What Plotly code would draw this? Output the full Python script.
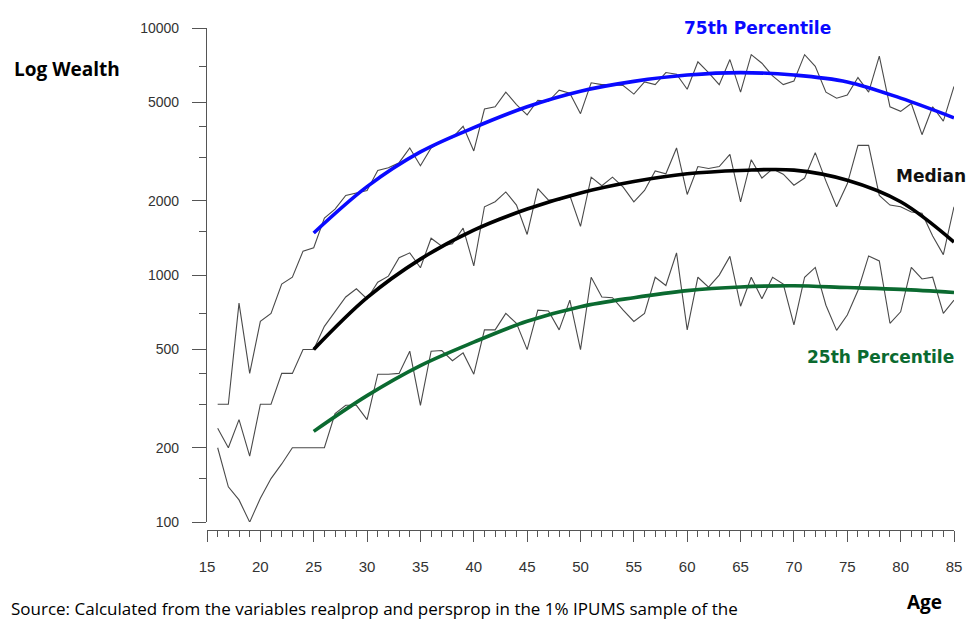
import plotly.graph_objects as go

ages = list(range(16, 86))

p75_raw = [300, 300, 770, 400, 650, 700, 920, 980, 1250, 1290,
           1700, 1850, 2100, 2150, 2200, 2650, 2720, 2850, 3270, 2770,
           3270, 3480, 3600, 4000, 3180, 4700, 4800, 5500, 4900, 4450,
           5100, 5050, 5600, 5450, 4500, 6000, 5900, 5900, 5850, 5400,
           6050, 5900, 6600, 6500, 5650, 7300, 6600, 5900, 7450, 5500,
           7800, 7200, 6400, 5900, 6100, 7800, 7000, 5500, 5200, 5350,
           6300, 5500, 7700, 4800, 4600, 4950, 3700, 4800, 4200, 5800]

median_raw = [240, 200, 260, 185, 300, 300, 400, 400, 500, 500,
              620, 710, 815, 880, 800, 935, 990, 1175, 1230, 1070,
              1410, 1310, 1340, 1550, 1090, 1890, 1980, 2170, 1920, 1460,
              2240, 2010, 2010, 2100, 1575, 2490, 2300, 2490, 2270, 1980,
              2200, 2640, 2570, 3270, 2120, 2750, 2700, 2750, 3080, 1980,
              2930, 2470, 2690, 2560, 2310, 2470, 3130, 2400, 1890, 2340,
              3350, 3350, 2100, 1920, 1890, 1800, 1780, 1440, 1210, 1890]

p25_raw = [200, 139, 123, 100, 125, 150, 172, 200, 200, 200,
           200, 275, 297, 297, 260, 397, 397, 400, 492, 297,
           492, 495, 450, 484, 397, 600, 600, 700, 638, 499,
           721, 715, 600, 791, 499, 980, 815, 810, 721, 649,
           700, 980, 907, 1230, 600, 980, 893, 1000, 1190, 748,
           980, 802, 980, 920, 628, 980, 1074, 755, 597, 689,
           866, 1195, 1141, 638, 710, 1074, 964, 980, 700, 791]

fit_ages = [25, 30, 35, 40, 45, 50, 55, 60, 65, 70, 75, 80, 85]
p75_fit = [1480, 2280, 3150, 3950, 4800, 5550, 6080, 6450, 6600, 6450, 6050, 5200, 4330]
median_fit = [500, 810, 1160, 1520, 1850, 2150, 2390, 2570, 2650, 2660, 2420, 1980, 1360]
p25_fit = [233, 325, 430, 535, 650, 745, 810, 865, 895, 905, 890, 875, 850]

y_ticks = [100, 200, 500, 1000, 2000, 5000, 10000]
y_minor = [150, 300, 400, 700, 1500, 3000, 4000, 7000]

fig = go.Figure()
for raw in (p75_raw, median_raw, p25_raw):
    fig.add_trace(go.Scatter(x=ages, y=raw, mode="lines",
                             line=dict(color="#4a4a4a", width=1.1),
                             showlegend=False, hoverinfo="skip"))

for fit, col in ((p75_fit, "#0a0aff"), (median_fit, "#000000"), (p25_fit, "#0b6a30")):
    fig.add_trace(go.Scatter(x=fit_ages, y=fit, mode="lines",
                             line=dict(color=col, width=3.6, shape="spline", smoothing=1.0),
                             showlegend=False))

axis_col = "#555555"
fig.update_layout(
    width=966, height=613,
    margin=dict(l=199, r=16, t=12, b=91),
    paper_bgcolor="white", plot_bgcolor="white",
    font=dict(family="Liberation Sans, Arial, sans-serif", color="#333333"),
    xaxis=dict(range=[15, 85], tickmode="linear", tick0=15, dtick=5,
               showgrid=False, zeroline=False, showline=True, linecolor=axis_col, linewidth=1.2,
               ticks="outside", ticklen=11, tickcolor=axis_col, tickwidth=1.2,
               minor=dict(ticks="outside", ticklen=6, dtick=1, tick0=15, tickcolor=axis_col, tickwidth=1.2),
               tickfont=dict(size=15, color="#333333"), ticklabelstandoff=12,
               anchor="free", position=0),
    yaxis=dict(type="log", range=[2, 4], domain=[0.0157, 1],
               tickmode="array", tickvals=y_ticks, ticktext=[str(v) for v in y_ticks],
               showgrid=False, zeroline=False, showline=True, linecolor=axis_col, linewidth=1.2,
               ticks="outside", ticklen=14, tickcolor=axis_col, tickwidth=1.2,
               minor=dict(ticks="outside", ticklen=7, tickmode="array", tickvals=y_minor,
                          tickcolor=axis_col, tickwidth=1.2),
               tickfont=dict(size=14, color="#333333"), ticklabelstandoff=10),
)

# plot area on page: x 207..958, y 20..530 (page has an 8px body margin)
def px2paper(px, py):
    return (px - 207) / 751, (530 - py) / 510

annos = [
    dict(text="<b>75th Percentile</b>", x=760, y=20, color="#0a0aff", size=17, family="DejaVu Sans"),
    dict(text="<b>Median</b>", x=935, y=170, color="#111111", size=17, family="DejaVu Sans"),
    dict(text="<b>25th Percentile</b>", x=884, y=354, color="#0b6a30", size=17, family="DejaVu Sans"),
    dict(text="<b>Log Wealth</b>", x=66, y=62, color="#000000", size=19, family="Open Sans, Lato"),
    dict(text="<b>Age</b>", x=928, y=603, color="#000000", size=19, family="Open Sans, Lato"),
]
for a in annos:
    ax, ay = px2paper(a["x"], a["y"])
    fig.add_annotation(text=a["text"], x=ax, y=ay, xref="paper", yref="paper",
                       xanchor="center", yanchor="middle", showarrow=False,
                       font=dict(color=a["color"], size=a["size"], family=a["family"]))

sx, sy = px2paper(8, 596)
fig.add_annotation(text="Source: Calculated from the variables realprop and persprop in the 1% IPUMS sample of the",
                   x=sx, y=sy, xref="paper", yref="paper", xanchor="left", yanchor="top",
                   showarrow=False, font=dict(color="#000000", size=17, family="Open Sans, Lato"))

fig.write_html("out.html")
